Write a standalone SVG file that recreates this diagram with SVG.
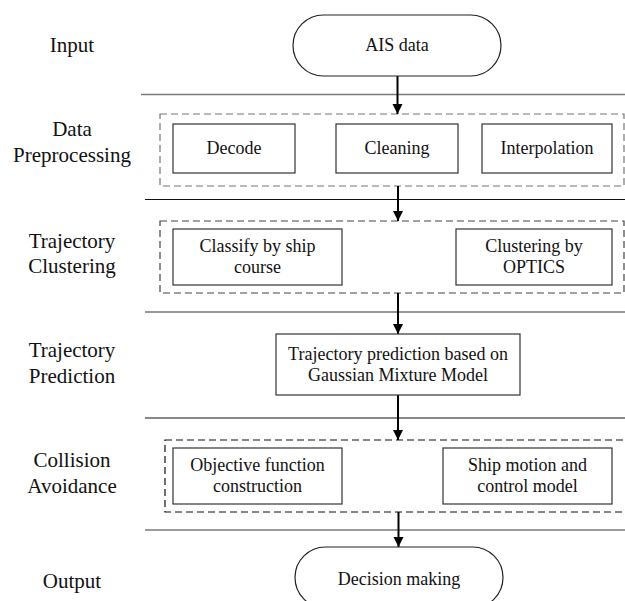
<svg xmlns="http://www.w3.org/2000/svg" width="625" height="601" viewBox="0 0 625 601">
<style>
text{font-family:'Liberation Serif',serif !important;fill:#111;text-anchor:middle}
.lbl{font-size:21px}
.t{font-size:18px}
.box{fill:#fff;stroke:#333;stroke-width:1.2}
.term{fill:#fff;stroke:#222;stroke-width:1.2}
.dash{fill:none;stroke-width:1.2;stroke-dasharray:7,4}
.conn{stroke:#000;stroke-width:2;fill:none}
</style>
<defs>
<marker id="ah" viewBox="0 0 10 10" refX="10" refY="5" markerWidth="10" markerHeight="11" markerUnits="userSpaceOnUse" orient="auto">
<path d="M0,0 L10,5 L0,10 Z" fill="#000"/>
</marker>
</defs>
<rect width="625" height="601" fill="#fff"/>
<g id="lanes">
<line x1="141" y1="94.5" x2="625" y2="94.5" stroke="#7a7a7a" stroke-width="1.6"/>
<line x1="145" y1="199.5" x2="625" y2="199.5" stroke="#111" stroke-width="1.2"/>
<line x1="145" y1="312" x2="625" y2="312" stroke="#333" stroke-width="1.2"/>
<line x1="145" y1="418" x2="625" y2="418" stroke="#111" stroke-width="1.2"/>
<line x1="145" y1="530" x2="625" y2="530" stroke="#7a7a7a" stroke-width="1.6"/>
</g>
<g id="labels">
<text class="lbl" x="72" y="52" style="font-family:'Liberation Serif',serif">Input</text>
<text class="lbl" x="72" y="136" style="font-family:'Liberation Serif',serif">Data</text>
<text class="lbl" x="72" y="162" style="font-family:'Liberation Serif',serif">Preprocessing</text>
<text class="lbl" x="72" y="248" style="font-family:'Liberation Serif',serif">Trajectory</text>
<text class="lbl" x="72" y="273" style="font-family:'Liberation Serif',serif">Clustering</text>
<text class="lbl" x="72" y="357" style="font-family:'Liberation Serif',serif">Trajectory</text>
<text class="lbl" x="72" y="383" style="font-family:'Liberation Serif',serif">Prediction</text>
<text class="lbl" x="72" y="467" style="font-family:'Liberation Serif',serif">Collision</text>
<text class="lbl" x="72" y="493" style="font-family:'Liberation Serif',serif">Avoidance</text>
<text class="lbl" x="72" y="588" style="font-family:'Liberation Serif',serif">Output</text>
</g>
<g id="groups">
<rect class="dash" x="160" y="114" width="464" height="72" stroke="#777"/>
<rect class="dash" x="160" y="221" width="464" height="72" stroke="#444"/>
<rect class="dash" x="165" y="440" width="462" height="72" stroke="#111"/>
</g>
<g id="connectors">
<line class="conn" x1="397.5" y1="76" x2="397.5" y2="114" marker-end="url(#ah)"/>
<line class="conn" x1="398" y1="186" x2="398" y2="221" marker-end="url(#ah)"/>
<line class="conn" x1="398" y1="293" x2="398" y2="334" marker-end="url(#ah)"/>
<line class="conn" x1="398" y1="395" x2="398" y2="440" marker-end="url(#ah)"/>
<line class="conn" x1="398.5" y1="512" x2="398.5" y2="547" marker-end="url(#ah)"/>
</g>
<g id="ais-data">
<rect class="term" x="293" y="15" width="208" height="61" rx="30.5" ry="30.5"/>
<text class="t" x="397" y="51" style="font-family:'Liberation Serif',serif">AIS data</text>
</g>
<g id="decode">
<rect class="box" x="173" y="124" width="122" height="49"/>
<text class="t" x="234" y="154" style="font-family:'Liberation Serif',serif">Decode</text>
</g>
<g id="cleaning">
<rect class="box" x="336" y="124" width="122" height="49"/>
<text class="t" x="397" y="154" style="font-family:'Liberation Serif',serif">Cleaning</text>
</g>
<g id="interpolation">
<rect class="box" x="482" y="124" width="130" height="49"/>
<text class="t" x="547" y="154" style="font-family:'Liberation Serif',serif">Interpolation</text>
</g>
<g id="classify">
<rect class="box" x="173" y="229" width="169" height="56"/>
<text class="t" x="257.5" y="252" style="font-family:'Liberation Serif',serif">Classify by ship</text>
<text class="t" x="257.5" y="273" style="font-family:'Liberation Serif',serif">course</text>
</g>
<g id="clustering">
<rect class="box" x="456" y="229" width="156" height="56"/>
<text class="t" x="534" y="252" style="font-family:'Liberation Serif',serif">Clustering by</text>
<text class="t" x="534" y="273" style="font-family:'Liberation Serif',serif">OPTICS</text>
</g>
<g id="prediction">
<rect class="box" x="276" y="334" width="244" height="61"/>
<text class="t" x="398" y="360" style="font-family:'Liberation Serif',serif">Trajectory prediction based on</text>
<text class="t" x="398" y="381" style="font-family:'Liberation Serif',serif">Gaussian Mixture Model</text>
</g>
<g id="objective">
<rect class="box" x="173" y="448" width="169" height="56"/>
<text class="t" x="257.5" y="471" style="font-family:'Liberation Serif',serif">Objective function</text>
<text class="t" x="257.5" y="492" style="font-family:'Liberation Serif',serif">construction</text>
</g>
<g id="ship-motion">
<rect class="box" x="443" y="448" width="169" height="56"/>
<text class="t" x="527.5" y="471" style="font-family:'Liberation Serif',serif">Ship motion and</text>
<text class="t" x="527.5" y="492" style="font-family:'Liberation Serif',serif">control model</text>
</g>
<g id="decision">
<rect class="term" x="295" y="547" width="208" height="61" rx="30.5" ry="30.5"/>
<text class="t" x="399" y="585" style="font-family:'Liberation Serif',serif">Decision making</text>
</g>
</svg>
